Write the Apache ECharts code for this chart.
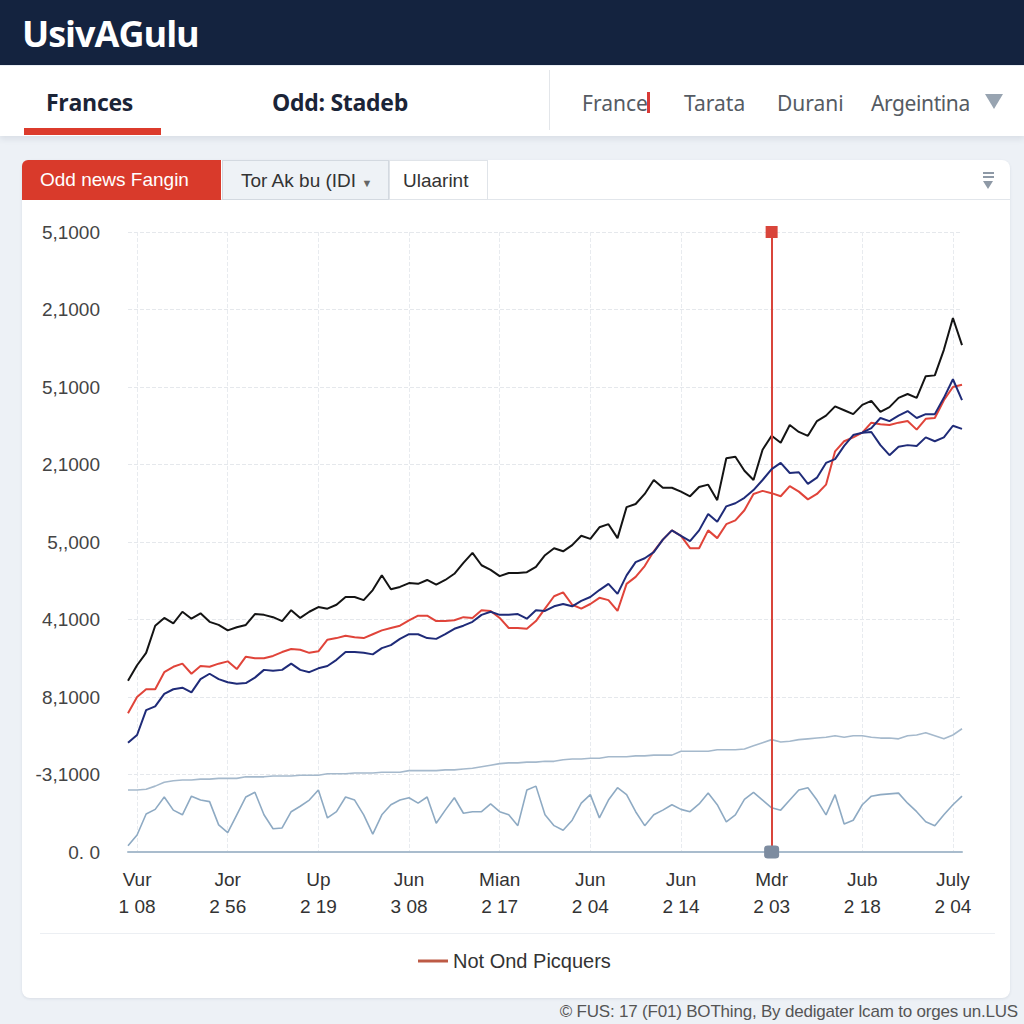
<!DOCTYPE html>
<html>
<head>
<meta charset="utf-8">
<script src="https://cdn.jsdelivr.net/npm/echarts@6/dist/echarts.min.js"></script>
<style>
  html, body { margin: 0; padding: 0; width: 1024px; height: 1024px; overflow: hidden; background: #edf1f6; font-family: "Liberation Sans", Arial, sans-serif; }
  .abs { position: absolute; }
  #header { left: 0; top: 0; width: 1024px; height: 65px; background: #14233f; }
  #title { left: 22px; top: 9px; color: #fff; font: 700 36px "Open Sans", "Liberation Sans", sans-serif; letter-spacing: -1px; }
  #nav { left: 0; top: 66px; width: 1024px; height: 70px; background: #fff; box-shadow: 0 3px 6px rgba(40,60,90,0.10); }
  .tab { top: 86px; font: 700 23px "Open Sans", "Liberation Sans", sans-serif; color: #1b2437; letter-spacing: -0.3px; }
  .ntab { top: 89px; font: 400 21px "Noto Sans", "Liberation Sans", sans-serif; color: #555b63; }
  #card { left: 22px; top: 160px; width: 988px; height: 838px; background: #fff; border-radius: 8px; box-shadow: 0 1px 3px rgba(40,60,90,0.10); }
  .btn { top: 160px; height: 40px; font: 400 19px "Liberation Sans", Arial, sans-serif; line-height: 40px; box-sizing: border-box; }
  #chart { left: 0; top: 0; width: 1024px; height: 1024px; }
</style>
</head>
<body>
<div id="header" class="abs"></div>
<div id="title" class="abs">UsivAGulu</div>
<div id="nav" class="abs"></div>
<div class="abs tab" style="left:46px;">Frances</div>
<div class="abs" style="left:24px;top:128px;width:137px;height:7px;background:#dc3b2c;"></div>
<div class="abs tab" style="left:272px;">Odd: Stadeb</div>
<div class="abs" style="left:549px;top:70px;width:1px;height:60px;background:#e3e6ea;"></div>
<div class="abs ntab" style="left:582px;">France</div>
<div class="abs" style="left:647px;top:92px;width:3px;height:21px;background:#d93a36;"></div>
<div class="abs ntab" style="left:684px;">Tarata</div>
<div class="abs ntab" style="left:777px;">Durani</div>
<div class="abs ntab" style="left:871px;letter-spacing:-0.4px;">Argeintina</div>
<div class="abs" style="left:985px;top:94px;width:0;height:0;border-left:9px solid transparent;border-right:9px solid transparent;border-top:15px solid #98a4b1;"></div>

<div id="card" class="abs"></div>
<div class="abs" style="left:22px;top:199px;width:988px;height:1px;background:#e2e6eb;"></div>
<div class="abs btn" style="left:22px;width:199px;background:#d93a2b;color:#fff;padding-left:18px;border-top-left-radius:6px;">Odd news Fangin</div>
<div class="abs btn" style="left:222px;width:167px;background:#eef2f6;color:#333;padding-left:18px;border:1px solid #d3d9e0;">Tor Ak bu (IDI <span style="font-size:11px;color:#666;">&#9660;</span></div>
<div class="abs btn" style="left:389px;width:99px;background:#fff;color:#333;padding-left:13px;border:1px solid #e0e4e9;">Ulaarint</div>
<div class="abs" style="left:983px;top:172px;width:11px;height:2px;background:#8e99a6;"></div>
<div class="abs" style="left:983px;top:176px;width:11px;height:2px;background:#8e99a6;"></div>
<div class="abs" style="left:983px;top:181px;width:0;height:0;border-left:5.5px solid transparent;border-right:5.5px solid transparent;border-top:8px solid #8e99a6;"></div>
<div class="abs" style="left:40px;top:933px;width:955px;height:1px;background:#eceff3;"></div>
<div class="abs" style="right:6px;top:1002px;font:400 17px 'Liberation Sans', Arial, sans-serif;color:#555;letter-spacing:-0.2px;">© FUS: 17 (F01) BOThing, By dedigater lcam to orges un.LUS</div>

<div id="chart" class="abs"></div>
<script>
// ---- tick labels ----
const yLabels = ['0. 0', '-3,1000', '8,1000', '4,1000', '5,,000', '2,1000', '5,1000', '2,1000', '5,1000'];
const monthLabels = ['Vur', 'Jor', 'Up', 'Jun', 'Mian', 'Jun', 'Jun', 'Mdr', 'Jub', 'July'];
const dayLabels = ['1 08', '2 56', '2 19', '3 08', '2 17', '2 04', '2 14', '2 03', '2 18', '2 04'];
const labelIdx = [1, 11, 21, 31, 41, 51, 61, 71, 81, 91];
const markerIdx = 71;
const legendName = 'Not Ond Picquers';

// ---- series values ----
const blackSeries = [2.21,2.41,2.57,2.92,3.02,2.95,3.10,3.01,3.08,2.97,2.93,2.86,2.90,2.93,3.07,3.06,3.03,2.98,3.12,3.02,
  3.10,3.16,3.14,3.19,3.29,3.29,3.25,3.38,3.57,3.39,3.42,3.47,3.46,3.51,3.45,3.51,3.59,3.73,3.86,3.70,
  3.64,3.56,3.60,3.60,3.61,3.68,3.83,3.92,3.88,3.96,4.08,4.04,4.19,4.23,4.05,4.45,4.49,4.62,4.80,4.70,
  4.70,4.65,4.59,4.71,4.74,4.54,5.08,5.10,4.92,4.80,5.19,5.37,5.28,5.51,5.42,5.37,5.56,5.63,5.75,5.70,
  5.65,5.77,5.82,5.68,5.74,5.86,5.91,5.86,6.14,6.15,6.48,6.89,6.54];
const redSeries = [1.79,2.00,2.10,2.10,2.32,2.39,2.43,2.30,2.40,2.39,2.43,2.46,2.36,2.52,2.50,2.50,2.53,2.58,2.62,2.61,
  2.57,2.59,2.74,2.76,2.79,2.77,2.76,2.81,2.86,2.89,2.92,2.99,3.05,3.05,2.98,2.98,2.99,3.03,3.02,3.12,
  3.11,3.02,2.89,2.89,2.88,2.98,3.14,3.30,3.35,3.19,3.14,3.20,3.28,3.25,3.11,3.46,3.55,3.69,3.88,4.03,
  4.15,4.08,3.92,3.92,4.15,4.05,4.23,4.28,4.41,4.62,4.66,4.63,4.59,4.72,4.65,4.55,4.62,4.74,5.17,5.30,
  5.35,5.41,5.54,5.52,5.51,5.54,5.56,5.45,5.59,5.60,5.83,6.00,6.03];
const navySeries = [1.41,1.51,1.83,1.88,2.04,2.10,2.12,2.06,2.23,2.30,2.23,2.19,2.17,2.18,2.25,2.35,2.34,2.35,2.43,2.35,
  2.32,2.37,2.40,2.48,2.58,2.58,2.57,2.55,2.63,2.67,2.75,2.81,2.81,2.76,2.75,2.81,2.88,2.92,2.97,3.06,
  3.10,3.06,3.06,3.07,3.01,3.12,3.11,3.17,3.20,3.17,3.24,3.29,3.38,3.46,3.33,3.57,3.74,3.79,3.87,4.03,
  4.15,4.08,4.01,4.15,4.36,4.26,4.46,4.50,4.57,4.67,4.80,4.94,5.02,4.89,4.90,4.75,4.83,5.02,5.07,5.24,
  5.38,5.41,5.47,5.60,5.56,5.63,5.69,5.60,5.65,5.65,5.86,6.10,5.83];
const navyBranch = [null,null,null,null,null,null,null,null,null,null,null,null,null,null,null,null,null,null,null,null,
  null,null,null,null,null,null,null,null,null,null,null,null,null,null,null,null,null,null,null,null,
  null,null,null,null,null,null,null,null,null,null,null,null,null,null,null,null,null,null,null,null,
  null,null,null,null,null,null,null,null,null,null,null,null,null,null,null,null,null,null,null,null,
  null,5.41,5.42,5.25,5.12,5.23,5.25,5.24,5.35,5.30,5.35,5.50,5.46];
const baseSeries = [0.80,0.80,0.81,0.85,0.90,0.92,0.93,0.93,0.94,0.94,0.95,0.95,0.95,0.97,0.97,0.97,0.98,0.98,0.98,0.99,
  0.99,0.99,1.01,1.01,1.01,1.02,1.02,1.02,1.03,1.03,1.03,1.05,1.05,1.05,1.05,1.06,1.06,1.07,1.08,1.10,
  1.12,1.14,1.15,1.15,1.16,1.16,1.17,1.17,1.19,1.20,1.20,1.21,1.21,1.23,1.23,1.23,1.24,1.24,1.25,1.25,
  1.25,1.30,1.30,1.30,1.30,1.32,1.32,1.32,1.33,1.37,1.41,1.45,1.42,1.43,1.45,1.46,1.47,1.48,1.50,1.48,
  1.50,1.50,1.48,1.47,1.47,1.46,1.50,1.51,1.54,1.50,1.46,1.51,1.59];
const oscSeries = [0.08,0.22,0.49,0.55,0.71,0.54,0.48,0.72,0.67,0.65,0.35,0.25,0.48,0.71,0.77,0.48,0.30,0.31,0.52,0.59,
  0.67,0.80,0.44,0.52,0.71,0.67,0.48,0.23,0.48,0.61,0.67,0.70,0.63,0.71,0.37,0.54,0.70,0.50,0.52,0.52,
  0.62,0.52,0.48,0.34,0.80,0.85,0.48,0.34,0.28,0.41,0.63,0.74,0.44,0.67,0.83,0.74,0.52,0.34,0.48,0.54,
  0.61,0.55,0.52,0.62,0.76,0.61,0.39,0.48,0.68,0.77,0.67,0.57,0.54,0.67,0.80,0.83,0.67,0.48,0.74,0.36,
  0.41,0.61,0.72,0.74,0.75,0.76,0.63,0.52,0.39,0.34,0.48,0.61,0.72];

const categories = blackSeries.map((_, i) => String(i));
const isLabelIdx = (i) => labelIdx.indexOf(i) >= 0;

const chart = echarts.init(document.getElementById('chart'), null, { renderer: 'svg' });
const font = '"Liberation Sans", Arial, sans-serif';
function lineSeries(name, data, color, width, z) {
  return { name, type: 'line', data, symbol: 'none', showSymbol: false, z: z,
    lineStyle: { color, width }, itemStyle: { color }, animation: false, connectNulls: false };
}
const series = [
  lineSeries('Base', baseSeries, '#a5b9cc', 1.6, 2),
  lineSeries('Osc', oscSeries, '#8eaac3', 1.6, 2),
  lineSeries('Black', blackSeries, '#141414', 2, 3),
  lineSeries(legendName, redSeries, '#e0443a', 2, 4),
  lineSeries('Navy', navySeries, '#1f2b78', 2, 5),
  lineSeries('Navy 2', navyBranch, '#1f2b78', 2, 5)
];
series[0].markLine = {
  silent: true, animation: false,
  symbol: ['none', 'rect'], symbolSize: 12,
  label: { show: false },
  lineStyle: { color: '#d9453b', width: 2, type: 'solid' },
  data: [{ xAxis: markerIdx }]
};
series[0].markPoint = {
  silent: true, animation: false,
  symbol: 'roundRect', symbolSize: [15, 13],
  itemStyle: { color: '#7d8ca0' },
  label: { show: false },
  data: [{ coord: [markerIdx, 0] }]
};
chart.setOption({
  animation: false,
  textStyle: { fontFamily: font },
  grid: { left: 128, right: 62, top: 232, bottom: 172, containLabel: false },
  legend: {
    data: [legendName], left: 413, top: 946, itemWidth: 30, itemHeight: 3, itemGap: 10,
    icon: 'rect',
    itemStyle: { color: '#bd5a45' },
    textStyle: { fontSize: 20, color: '#333', fontFamily: font, padding: [0, 0, 0, 0] }
  },
  xAxis: {
    type: 'category', data: categories, boundaryGap: false,
    axisLine: { show: true, lineStyle: { color: '#a9bccd', width: 2 } },
    axisTick: { show: false },
    axisLabel: {
      interval: (i) => isLabelIdx(i), margin: 14, fontSize: 19, color: '#333', lineHeight: 27,
      formatter: (v, i) => { const k = labelIdx.indexOf(i); return k >= 0 ? monthLabels[k] + '\n' + dayLabels[k] : ''; }
    },
    splitLine: { show: true, interval: (i) => isLabelIdx(i), lineStyle: { color: '#e8ebef', type: 'dashed', width: 1 } }
  },
  yAxis: {
    type: 'value', min: 0, max: 8, interval: 1,
    axisLine: { show: false }, axisTick: { show: false },
    axisLabel: { margin: 28, fontSize: 19, color: '#444', formatter: (v) => yLabels[Math.round(v)] },
    splitLine: { show: true, lineStyle: { color: '#e5e8ec', type: 'dashed', width: 1 } }
  },
  series
});
</script>
</body>
</html>
